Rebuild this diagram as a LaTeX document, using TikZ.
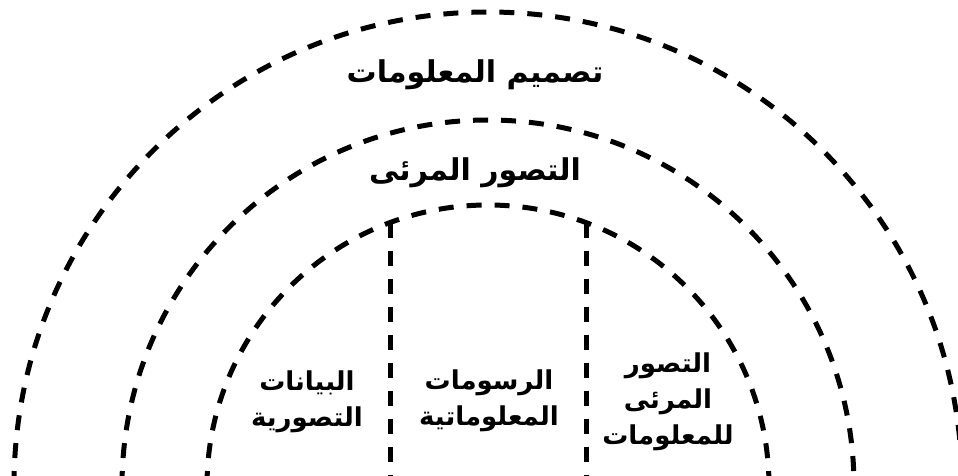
\documentclass[tikz,border=0pt]{standalone}
\usepackage{fontspec}
\newfontfamily\arabicfont[Script=Arabic]{DejaVu Sans}
\TeXXeTstate=1
\begin{document}
\begin{tikzpicture}[x=1pt,y=1pt,
  ring/.style={line width=5pt, dash pattern=on 15pt off 13pt},
  big/.style={font=\arabicfont\bfseries\fontsize{30}{36}\selectfont, inner sep=0pt},
  small/.style={font=\arabicfont\bfseries\fontsize{26}{36}\selectfont, align=center, inner sep=0pt}]
\useasboundingbox (0,0) rectangle (958,-476);
\clip (0,0) rectangle (958,-476);
% rings
\draw[ring] (14,-486) arc[start angle=180,end angle=0,radius=474];
\draw[ring] (122,-486) arc[start angle=180,end angle=0,radius=366];
\draw[ring] (207,-486) arc[start angle=180,end angle=0,radius=281];
% dividers
\coordinate (v1top) at (390,-222.6);
\coordinate (v1bot) at (390,-480);
\coordinate (v2top) at (586,-222.6);
\coordinate (v2bot) at (586,-480);
\draw[ring] (v1top) -- (v1bot);
\draw[ring] (v2top) -- (v2bot);
% labels
\node[big] (design) at (475,-75) {\beginR تصميم المعلومات\endR};
\node[big] (vis) at (475,-173) {\beginR التصور المرئى\endR};
\node[small] (data) at (307,-402) {\beginR البيانات\endR\\\beginR التصورية\endR};
\node[small] (info) at (489,-401) {\beginR الرسومات\endR\\\beginR المعلوماتية\endR};
\node[small] (infovis) at (668,-402) {\beginR التصور\endR\\\beginR المرئى\endR\\\beginR للمعلومات\endR};
\end{tikzpicture}
\end{document}
